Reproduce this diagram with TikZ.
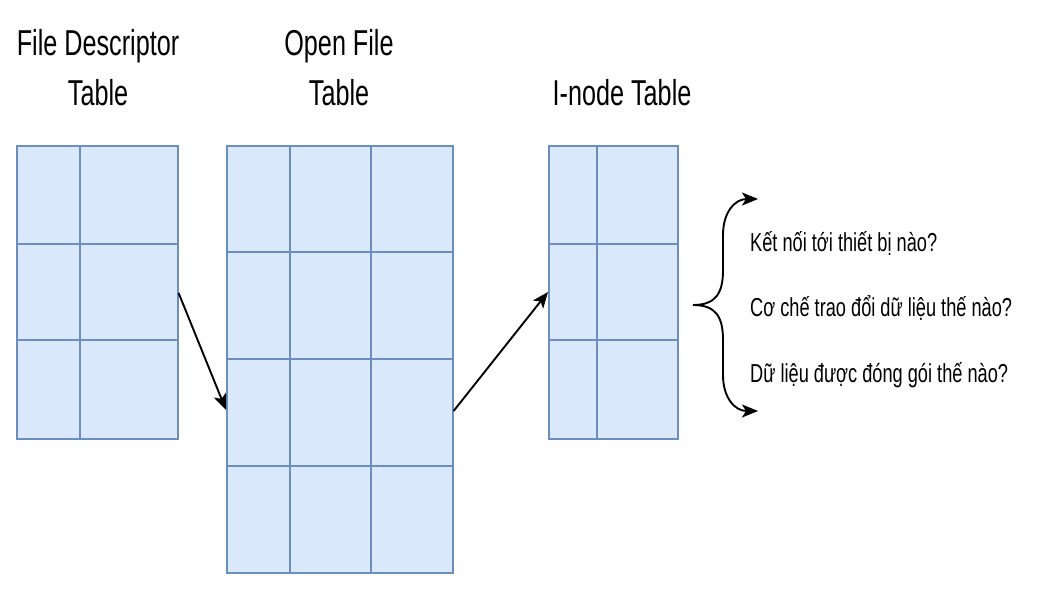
\documentclass[tikz,border=0pt]{standalone}
\usepackage{fontspec}
\setmainfont{Liberation Sans}[FakeStretch=0.70]
\usetikzlibrary{arrows.meta,calc}
\definecolor{cellfill}{HTML}{DAE8FC}
\definecolor{celldraw}{HTML}{6C8EBF}
\begin{document}
\begin{tikzpicture}[x=1pt,y=-1pt,
  tbl/.style={draw=celldraw,fill=cellfill,line width=1.6pt,anchor=north west,inner sep=0pt,rectangle},
  gridline/.style={draw=celldraw,line width=1.6pt},
  conn/.style={draw=black,line width=1.9pt,-{Stealth[length=16pt,width=13pt,inset=4pt]}},
  title/.style={font=\fontsize{36}{50}\selectfont,align=center,inner sep=0pt},
  question/.style={font=\fontsize{26}{30}\selectfont,inner sep=0pt,anchor=base west}]
\useasboundingbox (0,0) rectangle (1039,602);
% titles
\node[title,anchor=base] (fdt) at (98,105) {File Descriptor\\Table};
\node[title,anchor=base] (oft) at (339,105) {Open File\\Table};
\node[title,anchor=base] (int) at (622,105) {I-node Table};
% File descriptor table
\node[tbl,minimum width=161pt,minimum height=293pt] (fd) at (16,145) {};
\draw[gridline] (80,145) -- (80,438);
\draw[gridline] (16,244) -- (177,244);
\draw[gridline] (16,340) -- (177,340);
% Open file table
\node[tbl,minimum width=226pt,minimum height=427pt] (of) at (226,145) {};
\draw[gridline] (290,145) -- (290,572);
\draw[gridline] (371,145) -- (371,572);
\draw[gridline] (226,252) -- (452,252);
\draw[gridline] (226,359) -- (452,359);
\draw[gridline] (226,466) -- (452,466);
% I-node table
\node[tbl,minimum width=129pt,minimum height=293pt] (in) at (548,145) {};
\draw[gridline] (597,145) -- (597,438);
\draw[gridline] (548,244) -- (677,244);
\draw[gridline] (548,340) -- (677,340);
% connectors
\draw[conn] ($(fd.north east)+(0,148)$) -- ($(of.north west)+(0,265)$);
\draw[conn] ($(of.north east)+(0,266)$) -- ($(in.north west)+(0,147)$);
% brace arrows
\coordinate (tip) at (693,305);
\draw[conn] (tip) .. controls (716,305) and (723,293) .. (723,270) -- (723,235) .. controls (723,212) and (735,199) .. (758,199);
\draw[conn] (tip) .. controls (716,305) and (723,317) .. (723,340) -- (723,375) .. controls (723,398) and (735,411) .. (758,411);
% questions
\node[question] (q1) at (750,251) {Kết nối tới thiết bị nào?};
\node[question] (q2) at (750,316) {Cơ chế trao đổi dữ liệu thế nào?};
\node[question] (q3) at (750,382) {Dữ liệu được đóng gói thế nào?};
\end{tikzpicture}
\end{document}
